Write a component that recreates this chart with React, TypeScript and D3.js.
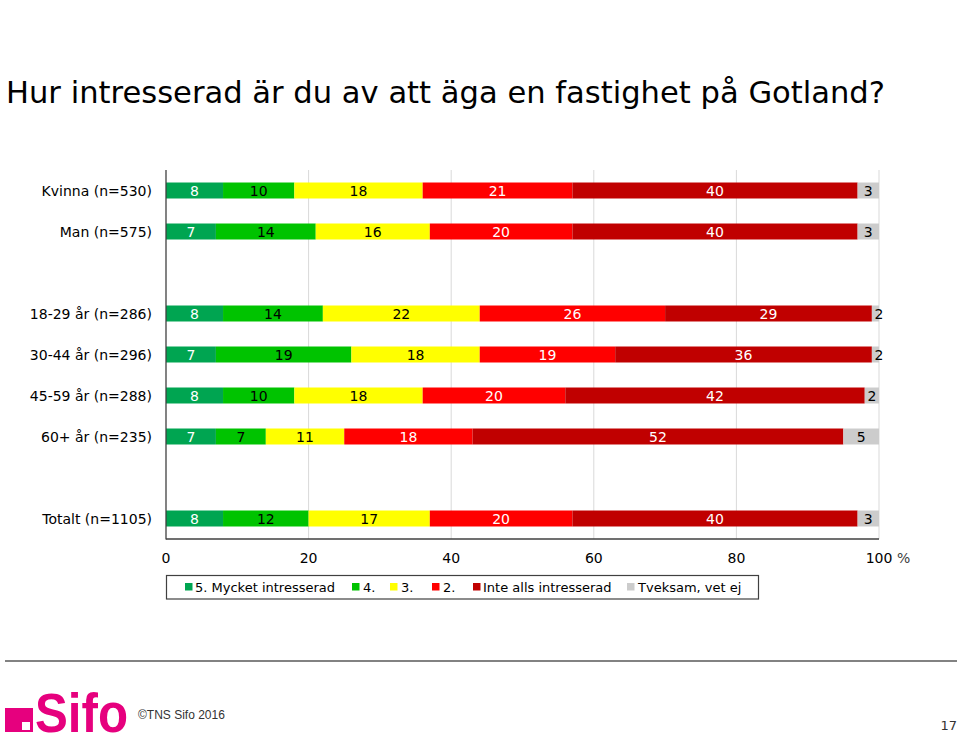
import React from "react";
import * as d3 from "d3";

const title = "Hur intresserad är du av att äga en fastighet på Gotland?";
const categories = [
  "Kvinna (n=530)",
  "Man (n=575)",
  "",
  "18-29 år (n=286)",
  "30-44 år (n=296)",
  "45-59 år (n=288)",
  "60+ år (n=235)",
  " ",
  "Totalt (n=1105)",
];
const seriesNames = ["5. Mycket intresserad", "4.", "3.", "2.", "Inte alls intresserad", "Tveksam, vet ej"];
const mycket = [8, 7, null, 8, 7, 8, 7, null, 8];
const fyra = [10, 14, null, 14, 19, 10, 7, null, 12];
const tre = [18, 16, null, 22, 18, 18, 11, null, 17];
const tva = [21, 20, null, 26, 19, 20, 18, null, 20];
const inteAlls = [40, 40, null, 29, 36, 42, 52, null, 40];
const tveksam = [3, 3, null, 2, 2, 2, 5, null, 3];
const xTicks = [0, 20, 40, 60, 80, 100];

const seriesValues = [mycket, fyra, tre, tva, inteAlls, tveksam];
const colors = ["#00A551", "#00C300", "#FFFF00", "#FF0000", "#C00000", "#CCCCCC"];
const labelColors = ["#FFFFFF", "#000000", "#000000", "#FFFFFF", "#FFFFFF", "#000000"];

const FONT = "'DejaVu Sans', Verdana, sans-serif";

export default function App() {
  const W = 960, H = 738;
  const x = d3.scaleLinear().domain([0, 100]).range([166, 879]);
  const y = d3.scaleBand<string>().domain(categories).range([170, 539]).paddingInner(0.61).paddingOuter(0.305);
  const bw = y.bandwidth();

  const rows = categories.map((c, i) => {
    let cum = 0;
    const segs = seriesValues.map((arr, s) => {
      const v = arr[i];
      if (v == null) return null;
      const x0 = cum;
      cum += v;
      return { s, v, x0, x1: cum };
    }).filter(Boolean) as { s: number; v: number; x0: number; x1: number }[];
    return { c, segs };
  });

  const legendItems = [
    { x: 185, tx: 195 },
    { x: 352, tx: 363 },
    { x: 390, tx: 401 },
    { x: 432, tx: 443 },
    { x: 473, tx: 483 },
    { x: 627, tx: 638 },
  ];

  return (
    <svg width={W} height={H} style={{ position: "absolute", left: 0, top: 0, background: "#fff" }} fontFamily={FONT}>
      <rect width={W} height={H} fill="#fff" />
      <text x={6} y={103} fontSize={29.5} fill="#000" textLength={879} lengthAdjust="spacingAndGlyphs">{title}</text>

      <defs>
        <clipPath id="plotclip">
          <rect x={x(0)} y={160} width={x(100) - x(0)} height={400} />
        </clipPath>
      </defs>

      {xTicks.slice(1).map((t) => (
        <line key={t} x1={x(t)} x2={x(t)} y1={170} y2={539} stroke="#D9D9D9" strokeWidth={1} />
      ))}

      <g clipPath="url(#plotclip)">
        {rows.map((r) =>
          r.segs.map((sg) => (
            <rect key={r.c + sg.s} x={x(sg.x0)} y={y(r.c)!} width={x(sg.x1) - x(sg.x0)} height={bw} fill={colors[sg.s]} />
          ))
        )}
      </g>
      {rows.map((r) =>
        r.segs.map((sg) => (
          <text key={"t" + r.c + sg.s} x={(x(sg.x0) + x(sg.x1)) / 2} y={y(r.c)! + bw / 2} dy="0.36em" textAnchor="middle" fontSize={14} fill={labelColors[sg.s]}>
            {d3.format("d")(sg.v)}
          </text>
        ))
      )}

      {categories.map((c) =>
        c.trim() ? (
          <text key={"c" + c} x={152} y={y(c)! + bw / 2} dy="0.36em" textAnchor="end" fontSize={14} fill="#000">{c}</text>
        ) : null
      )}

      <line x1={x(0)} x2={x(0)} y1={170} y2={539.5} stroke="#404040" strokeWidth={1.3} />
      <line x1={x(0)} x2={x(100)} y1={539} y2={539} stroke="#404040" strokeWidth={1.3} />

      {xTicks.map((t) => (
        <text key={"x" + t} x={x(t)} y={558} dy="0.36em" textAnchor="middle" fontSize={14} fill="#000">{t}</text>
      ))}
      <text x={897} y={558} dy="0.36em" fontSize={14} fill="#404040">%</text>

      <rect x={166.5} y={575.5} width={592} height={23.5} fill="#fff" stroke="#404040" strokeWidth={1.2} />
      {seriesNames.map((n, i) => (
        <g key={"l" + i}>
          <rect x={legendItems[i].x} y={583} width={7.5} height={7.5} fill={colors[i]} />
          <text x={legendItems[i].tx} y={587} dy="0.36em" fontSize={13} fill="#000">{n}</text>
        </g>
      ))}

      <line x1={5} x2={957} y1={661} y2={661} stroke="#595959" strokeWidth={1.5} />

      <rect x={5} y={708} width={28} height={24} fill="#E6007E" />
      <rect x={22} y={722} width={8} height={8} fill="#fff" />
      <text x={35} y={732} fontSize={55} fontWeight="bold" fill="#E6007E" fontFamily="'Liberation Sans', Arial, sans-serif" textLength={93} lengthAdjust="spacingAndGlyphs">Sifo</text>
      <text x={138} y={719} fontSize={12} fill="#333" fontFamily="'Liberation Sans', Arial, sans-serif">©TNS Sifo 2016</text>
      <text x={957} y={730} textAnchor="end" fontSize={13} fill="#333">17</text>
    </svg>
  );
}
